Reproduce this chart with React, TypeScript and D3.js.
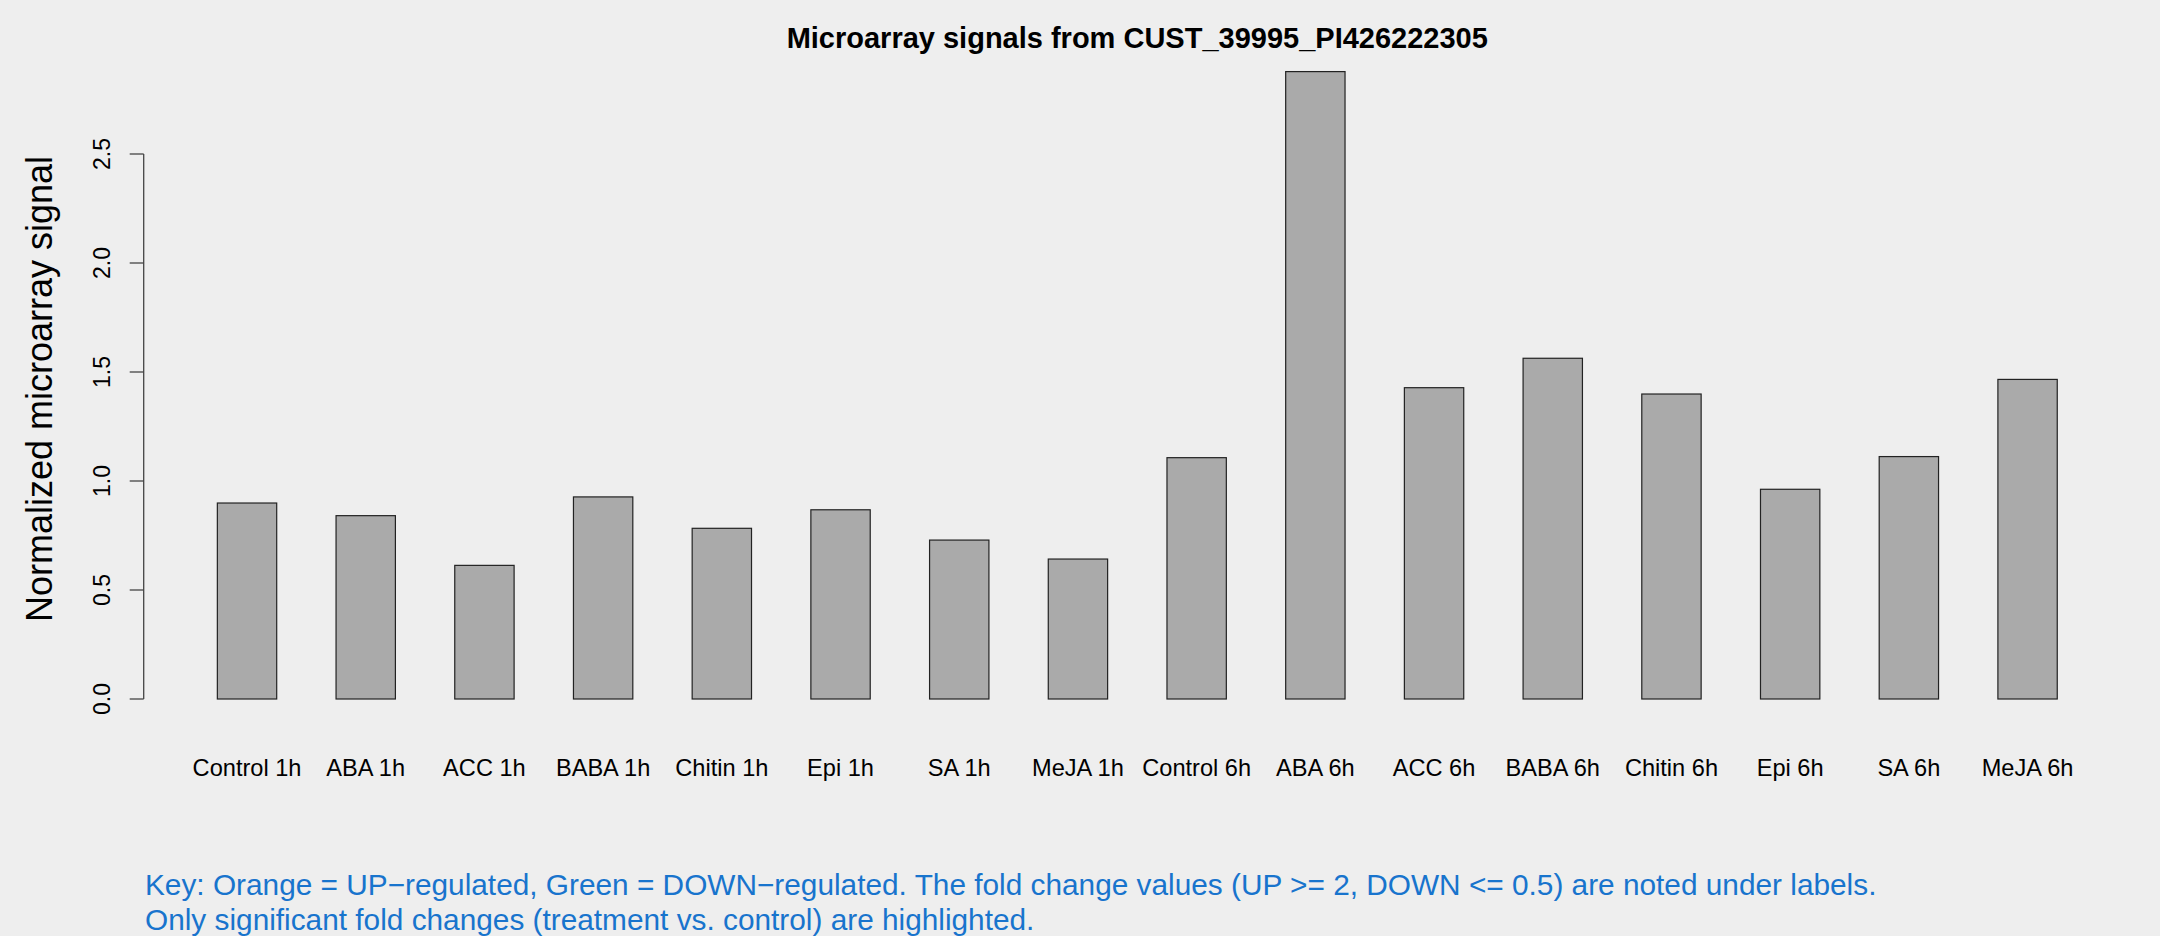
import React from "react";
import * as d3 from "d3";

const categories = [
  "Control 1h", "ABA 1h", "ACC 1h", "BABA 1h", "Chitin 1h", "Epi 1h", "SA 1h", "MeJA 1h",
  "Control 6h", "ABA 6h", "ACC 6h", "BABA 6h", "Chitin 6h", "Epi 6h", "SA 6h", "MeJA 6h",
];
const values = [
  0.899, 0.841, 0.613, 0.927, 0.783, 0.868, 0.729, 0.642,
  1.107, 2.878, 1.428, 1.563, 1.399, 0.962, 1.112, 1.466,
];
const yTicks = [0, 0.5, 1.0, 1.5, 2.0, 2.5];
const title = "Microarray signals from CUST_39995_PI426222305";
const yLabel = "Normalized microarray signal";
const keyLines = [
  "Key: Orange = UP\u2212regulated, Green = DOWN\u2212regulated. The fold change values (UP >= 2, DOWN <= 0.5) are noted under labels.",
  "Only significant fold changes (treatment vs. control) are highlighted.",
];

const W = 2160;
const H = 936;
const FONT = "'Liberation Sans', Arial, Helvetica, sans-serif";

export default function App() {
  const plotLeft = 143.7;
  const plotRight = 2130.8;
  const x = d3
    .scaleBand<string>()
    .domain(categories)
    .range([158, 2116.6])
    .paddingInner(0.5)
    .paddingOuter(0.5);
  const y = d3.scaleLinear().domain([0, 2.5]).range([699, 154]);
  const axisX = plotLeft;

  return (
    <svg
      width={W}
      height={H}
      style={{ position: "absolute", left: 0, top: 0, display: "block" }}
      fontFamily={FONT}
    >
      <rect x={0} y={0} width={W} height={H} fill="#EEEEEE" />
      <text
        x={(plotLeft + plotRight) / 2}
        y={48}
        textAnchor="middle"
        fontWeight="bold"
        fontSize={29}
        fill="#000"
      >
        {title}
      </text>

      {categories.map((c, i) => (
        <rect
          key={c}
          x={x(c)}
          y={y(values[i])}
          width={x.bandwidth()}
          height={y(0) - y(values[i])}
          fill="#AAAAAA"
          stroke="#222"
          strokeWidth={1.2}
        />
      ))}

      {categories.map((c) => (
        <text
          key={"l" + c}
          x={(x(c) as number) + x.bandwidth() / 2}
          y={775.5}
          textAnchor="middle"
          fontSize={23.6}
          fill="#000"
        >
          {c}
        </text>
      ))}

      <line
        x1={axisX}
        x2={axisX}
        y1={y(yTicks[0])}
        y2={y(yTicks[yTicks.length - 1])}
        stroke="#444"
        strokeWidth={1.3}
      />
      {yTicks.map((t) => (
        <g key={"t" + t}>
          <line x1={axisX - 14} x2={axisX} y1={y(t)} y2={y(t)} stroke="#444" strokeWidth={1.3} />
          <text
            transform={`translate(${110},${y(t)}) rotate(-90)`}
            textAnchor="middle"
            fontSize={23}
            fill="#000"
          >
            {t.toFixed(1)}
          </text>
        </g>
      ))}

      <text
        transform={`translate(${51.5},${389}) rotate(-90)`}
        textAnchor="middle"
        fontSize={36}
        fill="#000"
      >
        {yLabel}
      </text>

      {keyLines.map((l, i) => (
        <text key={"k" + i} x={145} y={895 + i * 35} fontSize={29.8} fill="#1874CD">
          {l}
        </text>
      ))}
    </svg>
  );
}
